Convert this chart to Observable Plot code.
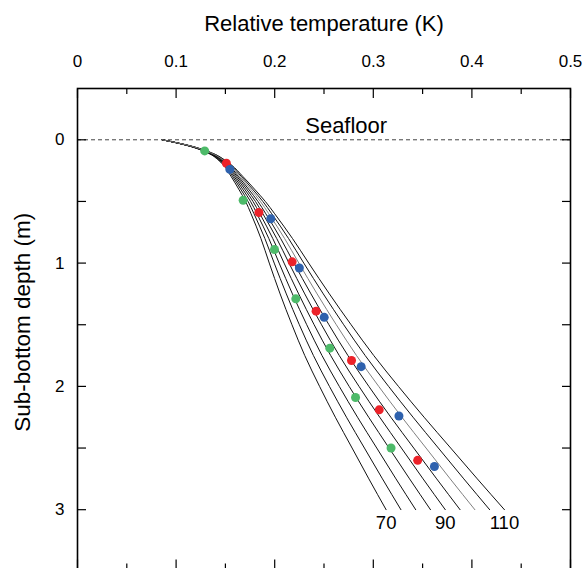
<!DOCTYPE html>
<html>
<head>
<meta charset="utf-8">
<script src="https://cdn.jsdelivr.net/npm/d3@7"></script>
<script src="https://cdn.jsdelivr.net/npm/@observablehq/plot@0.6"></script>
<style>
  html, body { margin: 0; padding: 0; background: #fff; }
  svg { display: block; }
</style>
</head>
<body>
<div id="chart"></div>
<script>
// ---- data ----
const depths = [0, 0.03, 0.06, 0.09, 0.12, 0.16, 0.2, 0.3, 0.4, 0.5, 0.6, 0.8, 1.0, 1.25, 1.5, 1.75, 2.0, 2.25, 2.5, 2.75, 3.0];
const t70  = [0.086, 0.1031, 0.1172, 0.1273, 0.1354, 0.1422, 0.1475, 0.1560, 0.1635, 0.1705, 0.1760, 0.1860, 0.1945, 0.2055, 0.2175, 0.2305, 0.2455, 0.2615, 0.2785, 0.2955, 0.3130];
const t75  = [0.086, 0.1033, 0.1175, 0.1278, 0.1360, 0.1430, 0.1485, 0.1575, 0.1655, 0.1730, 0.1790, 0.1900, 0.1995, 0.2118, 0.2250, 0.2393, 0.2555, 0.2728, 0.2910, 0.3093, 0.3280];
const t80  = [0.086, 0.1034, 0.1178, 0.1282, 0.1366, 0.1438, 0.1495, 0.1590, 0.1675, 0.1755, 0.1820, 0.1940, 0.2045, 0.2180, 0.2325, 0.2480, 0.2655, 0.2840, 0.3035, 0.3230, 0.3430];
const t85  = [0.086, 0.1036, 0.1181, 0.1287, 0.1372, 0.1446, 0.1505, 0.1605, 0.1695, 0.1780, 0.1850, 0.1980, 0.2095, 0.2243, 0.2400, 0.2568, 0.2755, 0.2953, 0.3160, 0.3368, 0.3580];
const t90  = [0.086, 0.1037, 0.1184, 0.1291, 0.1378, 0.1454, 0.1515, 0.1620, 0.1715, 0.1805, 0.1880, 0.2020, 0.2145, 0.2305, 0.2475, 0.2655, 0.2855, 0.3065, 0.3285, 0.3505, 0.3730];
const t95  = [0.086, 0.1039, 0.1187, 0.1296, 0.1384, 0.1462, 0.1525, 0.1635, 0.1735, 0.1830, 0.1910, 0.2060, 0.2195, 0.2368, 0.2550, 0.2743, 0.2955, 0.3178, 0.3410, 0.3643, 0.3880];
const t100 = [0.086, 0.1040, 0.1190, 0.1300, 0.1390, 0.1470, 0.1535, 0.1650, 0.1755, 0.1855, 0.1940, 0.2100, 0.2245, 0.2430, 0.2625, 0.2830, 0.3055, 0.3290, 0.3535, 0.3780, 0.4030];
const t105 = [0.086, 0.1042, 0.1193, 0.1305, 0.1396, 0.1478, 0.1545, 0.1665, 0.1775, 0.1880, 0.1970, 0.2140, 0.2295, 0.2493, 0.2700, 0.2918, 0.3155, 0.3403, 0.3660, 0.3918, 0.4180];
const t110 = [0.086, 0.1043, 0.1196, 0.1309, 0.1402, 0.1486, 0.1555, 0.1680, 0.1795, 0.1905, 0.2000, 0.2180, 0.2345, 0.2555, 0.2775, 0.3005, 0.3255, 0.3515, 0.3785, 0.4055, 0.4330];
const curveValues = [70, 75, 80, 85, 90, 95, 100, 105, 110];
const labelledCurves = [70, 90, 110];

const greenDepth = [0.09, 0.49, 0.89, 1.29, 1.69, 2.09, 2.50];
const greenTemp  = [0.129, 0.168, 0.1998, 0.2214, 0.2559, 0.282, 0.318];
const redDepth   = [0.19, 0.59, 0.99, 1.39, 1.79, 2.19, 2.60];
const redTemp    = [0.151, 0.184, 0.2177, 0.242, 0.2779, 0.306, 0.345];
const blueDepth  = [0.24, 0.64, 1.04, 1.44, 1.84, 2.24, 2.65];
const blueTemp   = [0.1545, 0.196, 0.225, 0.2502, 0.2877, 0.326, 0.362];

const xMajor = [0, 0.1, 0.2, 0.3, 0.4, 0.5];
const xMinor = [0.05, 0.15, 0.25, 0.35, 0.45];
const yMajor = [0, 1, 2, 3];
const yAll   = [0, 0.5, 1, 1.5, 2, 2.5, 3];

const xTitle = "Relative temperature (K)";
const yTitle = "Sub-bottom depth (m)";
const seafloorLabel = "Seafloor";

// ---- build tables ----
const temps = [t70, t75, t80, t85, t90, t95, t100, t105, t110];
const curveRows = curveValues.flatMap((q, k) => temps[k].map((t, i) => ({q, t, depth: depths[i]})));
const labelRows = labelledCurves.map(q => ({q, t: temps[curveValues.indexOf(q)].at(-1), depth: depths.at(-1)}));
const toRows = (ds, ts) => ds.map((d, i) => ({depth: d, t: ts[i]}));

const GREEN = "#4dba69", RED = "#ec2229", BLUE = "#2e61ad";
const FONT = "'Liberation Sans', Arial, Helvetica, sans-serif";

const chart = Plot.plot({
  width: 584,
  height: 572,
  marginLeft: 77,
  marginRight: 14,
  marginTop: 88,
  marginBottom: 3.5,
  style: {fontFamily: FONT, fontSize: "17px", background: "#fff", color: "#000"},
  x: {domain: [0, 0.5]},
  y: {domain: [-0.416, 3.481], reverse: true},
  marks: [
    // seafloor line
    Plot.ruleY([0], {stroke: "#444", strokeWidth: 1, strokeDasharray: "4,3"}),
    Plot.text([seafloorLabel], {x: 0.2725, y: 0, dy: -7, lineAnchor: "bottom", text: d => d, fontSize: 22}),
    // model curves
    Plot.line(curveRows.filter(d => d.q !== 100), {x: "t", y: "depth", z: "q", stroke: "#111", strokeWidth: 1, curve: "monotone-y"}),
    Plot.line(curveRows.filter(d => d.q === 100), {x: "t", y: "depth", z: "q", stroke: "#808080", strokeWidth: 1, curve: "monotone-y"}),
    Plot.text(labelRows, {x: "t", y: "depth", text: d => String(d.q), dy: 13, dx: 0, lineAnchor: "middle", fontSize: 18.5}),
    // measured points
    Plot.dot(toRows(greenDepth, greenTemp), {x: "t", y: "depth", r: 4.5, fill: GREEN}),
    Plot.dot(toRows(redDepth, redTemp), {x: "t", y: "depth", r: 4.5, fill: RED}),
    Plot.dot(toRows(blueDepth, blueTemp), {x: "t", y: "depth", r: 4.5, fill: BLUE}),
    // frame and inward ticks
    Plot.frame({stroke: "#000", strokeWidth: 1.6}),
    Plot.axisX(xMajor, {anchor: "top", tickSize: -9, fill: "none", label: null, strokeWidth: 1.2}),
    Plot.axisX(xMinor, {anchor: "top", tickSize: -5, fill: "none", label: null, strokeWidth: 1.2}),
    Plot.axisX(xMajor, {anchor: "bottom", tickSize: -9, fill: "none", label: null, strokeWidth: 1.2}),
    Plot.axisX(xMinor, {anchor: "bottom", tickSize: -5, fill: "none", label: null, strokeWidth: 1.2}),
    Plot.axisY(yAll, {anchor: "left", tickSize: -9, fill: "none", label: null, strokeWidth: 1.2}),
    Plot.axisY(yAll, {anchor: "right", tickSize: -9, fill: "none", label: null, strokeWidth: 1.2}),
    // tick labels
    Plot.axisX(xMajor, {anchor: "top", tickSize: 0, tickPadding: 22, stroke: "none", label: null, tickFormat: d => String(d), fontSize: 17}),
    Plot.axisY(yMajor, {anchor: "left", tickSize: 0, tickPadding: 13, stroke: "none", label: null, tickFormat: d => String(d), fontSize: 17}),
    // axis titles
    Plot.text([xTitle], {frameAnchor: "top", dy: -58, lineAnchor: "bottom", text: d => d, fontSize: 22}),
    Plot.text([yTitle], {frameAnchor: "left", dx: -54.5, dy: -6.5, rotate: -90, textAnchor: "middle", lineAnchor: "middle", text: d => d, fontSize: 22.5})
  ]
});
document.getElementById("chart").appendChild(chart);
</script>
</body>
</html>
